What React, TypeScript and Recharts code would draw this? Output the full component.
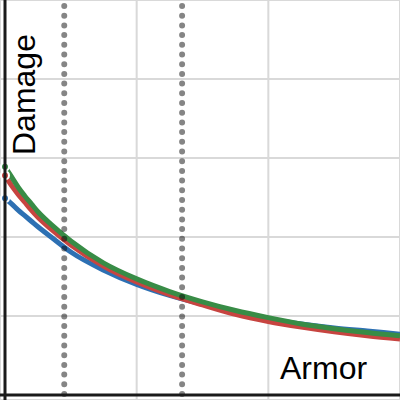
import { LineChart, Line, XAxis, YAxis, CartesianGrid, ReferenceLine } from 'recharts';

const armor = [0, 0.05, 0.1, 0.15, 0.2, 0.25, 0.35, 0.5, 0.75, 1, 1.25, 1.5, 1.75, 2, 2.25, 2.5, 2.75, 3];
const blueDamage = [2.49, 2.42, 2.34, 2.27, 2.2, 2.13, 2.0, 1.81, 1.58, 1.4, 1.26, 1.15, 1.05, 0.96, 0.9, 0.85, 0.81, 0.77];
const redDamage = [2.78, 2.65, 2.54, 2.44, 2.34, 2.25, 2.1, 1.9, 1.63, 1.43, 1.27, 1.14, 1.02, 0.93, 0.86, 0.8, 0.75, 0.71];
const greenDamage = [2.89, 2.76, 2.63, 2.52, 2.42, 2.32, 2.16, 1.95, 1.67, 1.47, 1.31, 1.18, 1.07, 0.98, 0.9, 0.84, 0.79, 0.75];
const markers = [0.45, 1.345];

const xTicks = [0, 1, 2, 3];
const yTicks = [0, 1, 2, 3, 4, 5];
const xDomain = [-0.038, 3];
const yDomain = [-0.063, 5];

const data = armor.map((a, i) => ({
  armor: a,
  blue: blueDamage[i],
  red: redDamage[i],
  green: greenDamage[i],
}));

const FONT = '"Liberation Sans", Arial, sans-serif';

// dotted marker line, dots start at the top edge
const dotted = (props: any) => (
  <line
    x1={props.x1}
    y1={Math.min(props.y1, props.y2) + 6}
    x2={props.x2}
    y2={Math.max(props.y1, props.y2)}
    stroke="#000"
    strokeOpacity={0.48}
    strokeWidth={6}
    strokeDasharray="0 9.7"
    strokeLinecap="round"
  />
);

export default function App() {
  return (
    <div style={{ position: 'absolute', left: 0, top: 0 }}>
      <LineChart width={400} height={400} data={data} margin={{ top: 0, right: 0, bottom: 0, left: 0 }}>
        <CartesianGrid stroke="#d9d9d9" strokeWidth={2} />
        <XAxis type="number" dataKey="armor" domain={xDomain} ticks={xTicks} allowDataOverflow hide />
        <YAxis type="number" domain={yDomain} ticks={yTicks} allowDataOverflow hide />
        <Line type="monotone" dataKey="blue" stroke="#2d70b3" strokeWidth={5} dot={false} isAnimationActive={false} />
        <Line type="monotone" dataKey="red" stroke="#c74440" strokeWidth={5} dot={false} isAnimationActive={false} />
        <Line type="monotone" dataKey="green" stroke="#388c46" strokeWidth={5} dot={false} isAnimationActive={false} />
        {markers.map((m) => (
          <ReferenceLine key={m} x={m} shape={dotted} ifOverflow="visible" zIndex={1900} />
        ))}
        <ReferenceLine x={0} stroke="#1a1a1a" strokeWidth={3} zIndex={2000} />
        <ReferenceLine y={0} stroke="#1a1a1a" strokeWidth={3} zIndex={2000} />
        <text x={35} y={155} transform="rotate(-90, 35, 155)" fontSize={32} fontFamily={FONT} fill="#000">
          Damage
        </text>
        <text x={280} y={379} fontSize={32} fontFamily={FONT} fill="#000">
          Armor
        </text>
      </LineChart>
    </div>
  );
}
